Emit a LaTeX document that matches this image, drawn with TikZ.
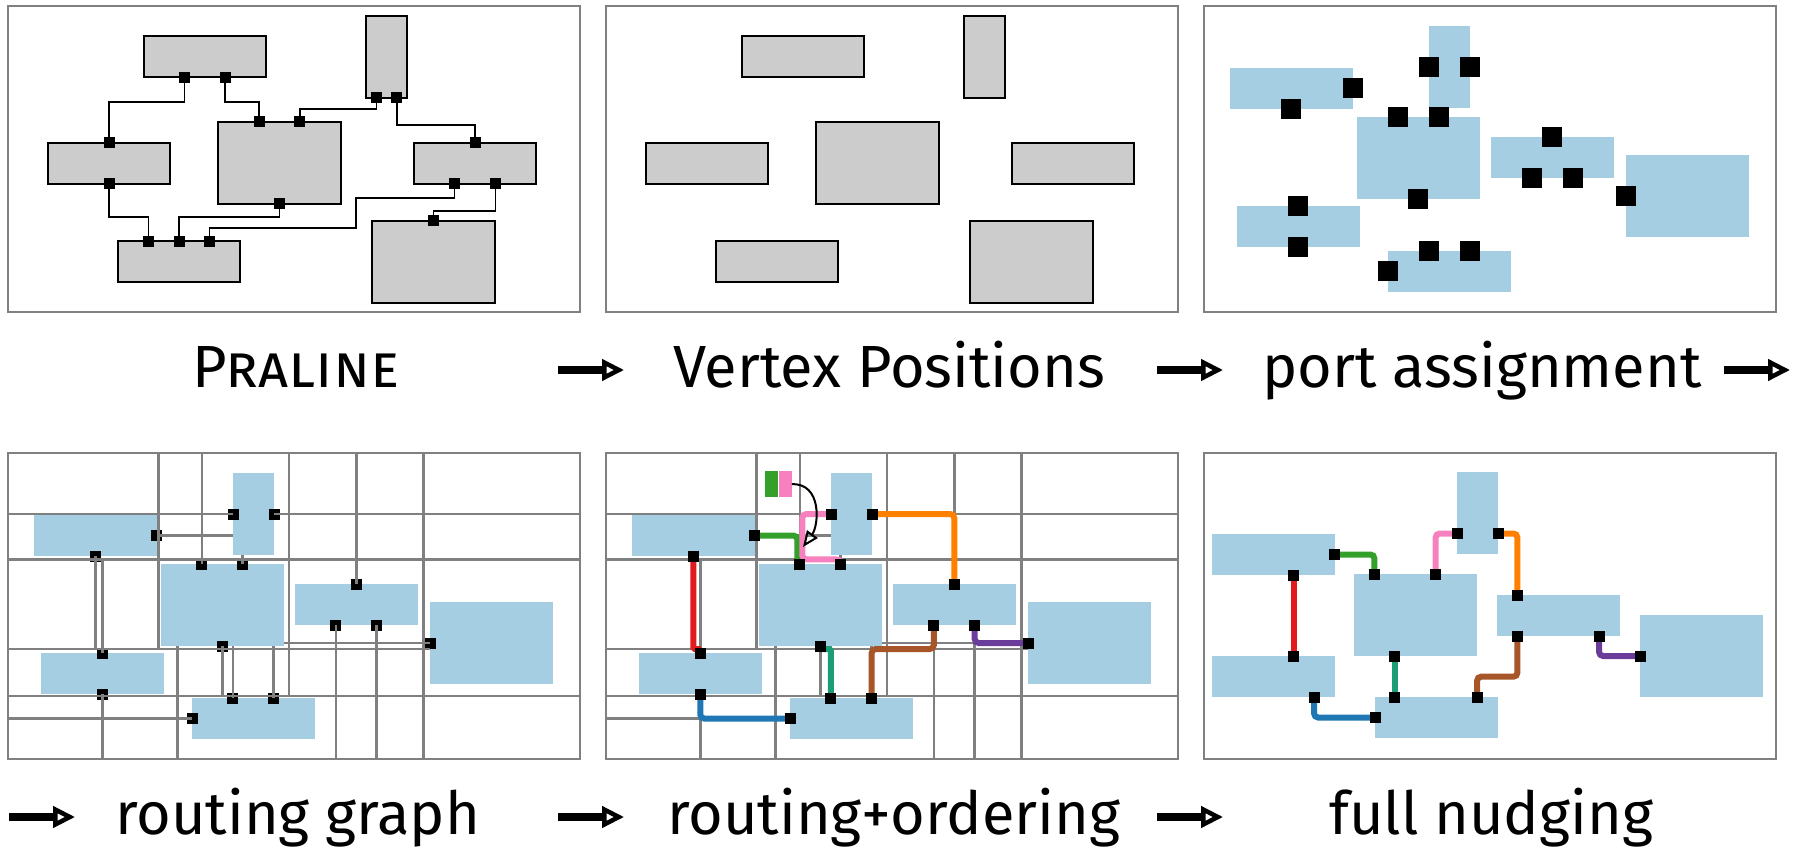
\documentclass[tikz,border=0pt]{standalone}
\usepackage{fontspec}
\setmainfont{Fira Sans}
\usepackage{xcolor}
\definecolor{vtxgray}{HTML}{CCCCCC}
\definecolor{vtxblue}{HTML}{A6CEE3}
\definecolor{framegray}{HTML}{808080}
\definecolor{cred}{HTML}{E31A1C}
\definecolor{cgreen}{HTML}{33A02C}
\definecolor{cpink}{HTML}{F781BF}
\definecolor{corange}{HTML}{FF7F00}
\definecolor{cteal}{HTML}{1B9E77}
\definecolor{cbrown}{HTML}{A65628}
\definecolor{cpurple}{HTML}{6A3D9A}
\definecolor{cblue}{HTML}{1F78B4}
\usepackage{tikz}
\usetikzlibrary{arrows.meta, calc}
\tikzset{
  panelframe/.style = {draw=framegray, line width=2.8pt},
  vwide/.style      = {minimum width=122.5, minimum height=41},
  vbig/.style       = {minimum width=122.5, minimum height=82},
  vtall/.style      = {minimum width=41, minimum height=82},
  grayvtx/.style    = {rectangle, draw=black, line width=2pt, fill=vtxgray, inner sep=0pt, outer sep=0pt},
  bluevtx/.style    = {rectangle, fill=vtxblue, inner sep=0pt, outer sep=0pt},
  port/.style       = {rectangle, fill=black, minimum size=11, inner sep=0pt},
  bigport/.style    = {rectangle, fill=black, minimum size=20, inner sep=0pt},
  edge/.style       = {draw=black, line width=1.5pt},
  rgline/.style     = {draw=framegray, line width=2.6pt},
  route/.style      = {line width=6pt, rounded corners=4pt},
  pointer/.style    = {-{Triangle[open, length=16pt, width=13pt, line width=2pt]}, line width=2pt, black},
  flowarrow/.style  = {-{Triangle[open, length=22pt, width=21pt, line width=4.5pt]}, line width=8pt, black},
  caplabel/.style   = {anchor=base west, inner sep=0pt, font=\fontsize{59.5}{70}\selectfont},
}

% vertex layout of the input drawing (panels 1 and 2)
\newcommand{\placeA}[2]{%
  \node[#2, vwide] (#1A) at (196.8,51) {};
  \node[#2, vtall] (#1B) at (378.5,51) {};
  \node[#2, vwide] (#1C) at (101,157.5) {};
  \node[#2, vbig]  (#1D) at (271.5,157) {};
  \node[#2, vwide] (#1E) at (467,157.5) {};
  \node[#2, vwide] (#1F) at (171,256) {};
  \node[#2, vbig]  (#1G) at (425.5,256) {};
}

% vertex layout after the vertex positions step (panels 3 to 5)
\newcommand{\placeB}[1]{%
  \node[bluevtx, vwide] (#1b1) at (87.25,82.5) {};
  \node[bluevtx, vtall] (#1b2) at (245.5,61) {};
  \node[bluevtx, vbig]  (#1b3) at (214.25,152) {};
  \node[bluevtx, vwide] (#1b4) at (348.25,151.5) {};
  \node[bluevtx, vbig]  (#1b5) at (483.25,190) {};
  \node[bluevtx, vwide] (#1b6) at (94.25,220.5) {};
  \node[bluevtx, vwide] (#1b7) at (245.25,265.5) {};
  \coordinate (#1b1e)  at (#1b1.east);
  \coordinate (#1b1s)  at (#1b1.south);
  \coordinate (#1b2w)  at (#1b2.west);
  \coordinate (#1b2e)  at (#1b2.east);
  \coordinate (#1b3n1) at ($(#1b3.north west)!1/3!(#1b3.north east)$);
  \coordinate (#1b3n2) at ($(#1b3.north west)!2/3!(#1b3.north east)$);
  \coordinate (#1b3s)  at (#1b3.south);
  \coordinate (#1b4n)  at (#1b4.north);
  \coordinate (#1b4s1) at ($(#1b4.south west)!1/3!(#1b4.south east)$);
  \coordinate (#1b4s2) at ($(#1b4.south west)!2/3!(#1b4.south east)$);
  \coordinate (#1b5w)  at (#1b5.west);
  \coordinate (#1b6n)  at (#1b6.north);
  \coordinate (#1b6s)  at (#1b6.south);
  \coordinate (#1b7n1) at ($(#1b7.north west)!1/3!(#1b7.north east)$);
  \coordinate (#1b7n2) at ($(#1b7.north west)!2/3!(#1b7.north east)$);
  \coordinate (#1b7w)  at (#1b7.west);
}
\newcommand{\portsB}{b1e,b1s,b2w,b2e,b3n1,b3n2,b3s,b4n,b4s1,b4s2,b5w,b6n,b6s,b7n1,b7n2,b7w}

% routing graph through the free space
\newcommand{\routegraph}[1]{%
  \draw[rgline]
    (0,61) -- (#1b2w) (#1b2e) -- (572,61)
    (#1b1e) -- (#1b1e -| #1b2.west)
    (0,106.3) -- (572,106.3)
    (#1b5w -| #1b3.east) -- (#1b5w)
    (0,196) -- (#1b5.west |- 0,196)
    (0,243) -- (572,243)
    (#1b7w -| 0,0) -- (#1b7w)
    (150.5,0) -- (150.5,196)
    (#1b3n1 |- 0,0) -- (#1b3n1)
    (#1b3n2 |- #1b2.south) -- (#1b3n2)
    (281,0) -- (281,243)
    (#1b4n |- 0,0) -- (#1b4n)
    (415.7,0) -- (415.7,306)
    (#1b1s) -- (#1b1s |- 0,196)
    (#1b6n |- 0,106.3) -- (#1b6n)
    (#1b6s) -- (#1b6s |- 0,306)
    (169.7,193) -- (169.7,306)
    (#1b3s) -- (#1b3s |- 0,243)
    (#1b7n1 |- #1b3.south) -- (#1b7n1)
    (#1b7n2 |- #1b3.south) -- (#1b7n2)
    (#1b4s1) -- (#1b4s1 |- 0,306)
    (#1b4s2) -- (#1b4s2 |- 0,306);
}

\begin{document}
\begin{tikzpicture}[x=1pt, y=-1pt]
  \useasboundingbox (0,0) rectangle (1796,850);

  % panel 1: input drawing
  \begin{scope}[shift={(8,6)}]
    \draw[panelframe] (0,0) rectangle (572,306);
    \placeA{pr}{grayvtx}
    \coordinate (pra1) at ($(prA.south west)!1/3!(prA.south east)$);
    \coordinate (pra2) at ($(prA.south west)!2/3!(prA.south east)$);
    \coordinate (prb1) at ($(prB.south west)!1/4!(prB.south east)$);
    \coordinate (prb2) at ($(prB.south west)!3/4!(prB.south east)$);
    \coordinate (prc1) at (prC.north);
    \coordinate (prc2) at (prC.south);
    \coordinate (prd1) at ($(prD.north west)!1/3!(prD.north east)$);
    \coordinate (prd2) at ($(prD.north west)!2/3!(prD.north east)$);
    \coordinate (prd3) at (prD.south);
    \coordinate (pre1) at (prE.north);
    \coordinate (pre2) at ($(prE.south west)!1/3!(prE.south east)$);
    \coordinate (pre3) at ($(prE.south west)!2/3!(prE.south east)$);
    \coordinate (prf1) at ($(prF.north west)!1/4!(prF.north east)$);
    \coordinate (prf2) at (prF.north);
    \coordinate (prf3) at ($(prF.north west)!3/4!(prF.north east)$);
    \coordinate (prg)  at (prG.north);
    \draw[edge] (pra1) -- ++(0,24.5) -| (prc1);
    \draw[edge] (pra2) -- ++(0,24.5) -| (prd1);
    \draw[edge] (prb1) -- ++(0,11) -| (prd2);
    \draw[edge] (prb2) -- ++(0,27) -| (pre1);
    \draw[edge] (prc2) -- ++(0,33) -| (prf1);
    \draw[edge] (prd3) -- ++(0,13) -| (prf2);
    \draw[edge] (pre2) -- ++(0,14) -| (347.9,222) -| (prf3);
    \draw[edge] (pre3) -- ++(0,27) -| (prg);
    \foreach \p in {a1,a2,b1,b2,c1,c2,d1,d2,d3,e1,e2,e3,f1,f2,f3,g}
      \node[port] (sq-pr\p) at (pr\p) {};
  \end{scope}

  % panel 2: vertex positions only
  \begin{scope}[shift={(606,6)}]
    \draw[panelframe] (0,0) rectangle (572,306);
    \placeA{vp}{grayvtx}
  \end{scope}

  % panel 3: port assignment
  \begin{scope}[shift={(1204,6)}]
    \draw[panelframe] (0,0) rectangle (572,306);
    \placeB{pa}
    \foreach \p in \portsB
      \node[bigport] (sq-pa\p) at (pa\p) {};
  \end{scope}

  % panel 4: routing graph
  \begin{scope}[shift={(8,453)}]
    \placeB{rg}
    \foreach \p in \portsB
      \node[port] (sq-rg\p) at (rg\p) {};
    \routegraph{rg}
    \draw[panelframe] (0,0) rectangle (572,306);
  \end{scope}

  % panel 5: routing + ordering
  \begin{scope}[shift={(606,453)}]
    \placeB{ro}
    \routegraph{ro}
    \draw[panelframe] (0,0) rectangle (572,306);
    \draw[route, cred, rounded corners=1.5pt] (rob1s) -- (rob1s |- 0,196) -| (rob6n);
    \draw[route, cgreen]  (rob1e) -| ($(rob3n1)+(-2.5,0)$);
    \draw[route, cpink]   (rob2w) -| ($(rob3n1 |- 0,106.3)+(2.5,0)$) -| (rob3n2);
    \draw[route, corange] (rob2e) -| (rob4n);
    \draw[route, cteal, rounded corners=1.5pt] (rob3s) -- (rob3s |- 0,196) -| (rob7n1);
    \draw[route, cbrown]  (rob4s1) -- (rob4s1 |- 0,196) -| (rob7n2);
    \draw[route, cpurple] (rob4s2) |- (rob5w);
    \draw[route, cblue]   (rob6s) |- (rob7w);
    \foreach \p in \portsB
      \node[port] (sq-ro\p) at (ro\p) {};
    % order of the two routes on the shared segment
    \node[fill=cgreen, minimum width=13, minimum height=26, inner sep=0pt, anchor=north west] (ro-lg) at (159,18) {};
    \node[fill=cpink, minimum width=13, minimum height=26, inner sep=0pt, anchor=north west] (ro-lp) at (ro-lg.north east) {};
    \coordinate (ro-tip) at (197,94);
    \draw[pointer] (ro-lp.east) .. controls (216,30) and (213,72) .. (ro-tip);
  \end{scope}

  % panel 6: full nudging
  \begin{scope}[shift={(1204,453)}]
    \draw[panelframe] (0,0) rectangle (572,306);
    \node[bluevtx, vwide] (fnc1) at (69.25,101.5) {};
    \node[bluevtx, vtall] (fnc2) at (273.5,60) {};
    \node[bluevtx, vbig]  (fnc3) at (211.25,162) {};
    \node[bluevtx, vwide] (fnc4) at (354.25,162.5) {};
    \node[bluevtx, vbig]  (fnc5) at (497.25,203) {};
    \node[bluevtx, vwide] (fnc6) at (69.25,223.5) {};
    \node[bluevtx, vwide] (fnc7) at (232.25,264.5) {};
    \coordinate (fnc1e)  at (fnc1.east);
    \coordinate (fnc1s)  at ($(fnc1.south west)!2/3!(fnc1.south east)$);
    \coordinate (fnc2w)  at ($(fnc2.north west)!3/4!(fnc2.south west)$);
    \coordinate (fnc2e)  at ($(fnc2.north east)!3/4!(fnc2.south east)$);
    \coordinate (fnc3n1) at ($(fnc3.north west)!1/6!(fnc3.north east)$);
    \coordinate (fnc3n2) at ($(fnc3.north west)!2/3!(fnc3.north east)$);
    \coordinate (fnc3s)  at ($(fnc3.south west)!1/3!(fnc3.south east)$);
    \coordinate (fnc4n)  at ($(fnc4.north west)!1/6!(fnc4.north east)$);
    \coordinate (fnc4s1) at ($(fnc4.south west)!1/6!(fnc4.south east)$);
    \coordinate (fnc4s2) at ($(fnc4.south west)!5/6!(fnc4.south east)$);
    \coordinate (fnc5w)  at (fnc5.west);
    \coordinate (fnc6n)  at ($(fnc6.north west)!2/3!(fnc6.north east)$);
    \coordinate (fnc6s)  at ($(fnc6.south west)!5/6!(fnc6.south east)$);
    \coordinate (fnc7n1) at (fnc3s |- fnc7.north);
    \coordinate (fnc7n2) at ($(fnc7.north west)!5/6!(fnc7.north east)$);
    \coordinate (fnc7w)  at (fnc7.west);
    \draw[route, cred]    (fnc1s) -- (fnc6n);
    \draw[route, cgreen]  (fnc1e) -| (fnc3n1);
    \draw[route, cpink]   (fnc2w) -| (fnc3n2);
    \draw[route, corange] (fnc2e) -| (fnc4n);
    \draw[route, cteal]   (fnc3s) -- (fnc7n1);
    \draw[route, cbrown]  (fnc4s1) -- ++(0,40.7) -| (fnc7n2);
    \draw[route, cpurple] (fnc4s2) |- (fnc5w);
    \draw[route, cblue]   (fnc6s) |- (fnc7w);
    \foreach \p in {1e,1s,2w,2e,3n1,3n2,3s,4n,4s1,4s2,5w,6n,6s,7n1,7n2,7w}
      \node[port] (sq-fn\p) at (fnc\p) {};
  \end{scope}

  % step captions
  \node[caplabel] (lab-pr) at (192,387) {\textsc{Praline}};
  \node[caplabel] (lab-vp) at (673,387) {Vertex Positions};
  \node[caplabel] (lab-pa) at (1262,387) {port assignment};
  \node[caplabel] (lab-rg) at (115,834) {routing graph};
  \node[caplabel] (lab-ro) at (667,834) {routing+ordering};
  \node[caplabel] (lab-fn) at (1329,834) {full nudging};

  % arrows between the steps
  \foreach \ax/\ay in {558/370, 1157/370, 1724/370, 9/817, 558/817, 1157/817}
    \draw[flowarrow] (\ax,\ay) -- ++(66,0);
\end{tikzpicture}
\end{document}
